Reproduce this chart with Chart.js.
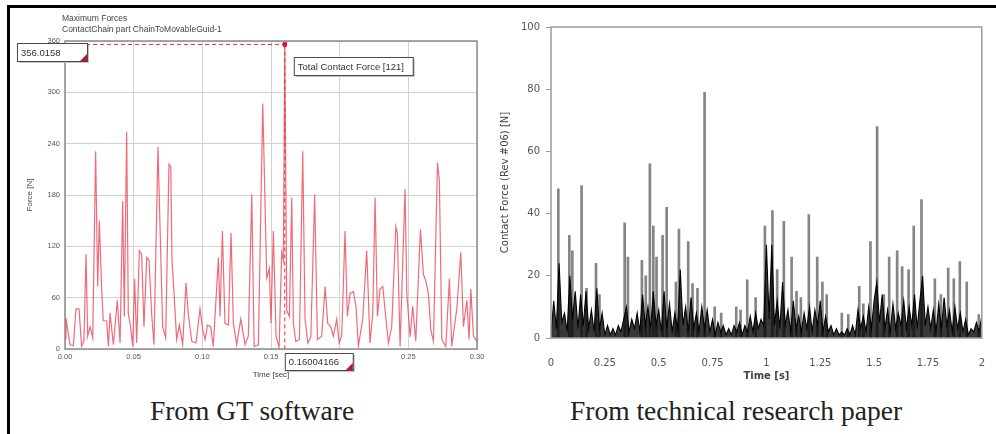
<!DOCTYPE html>
<html>
<head>
<meta charset="utf-8">
<script src="https://cdn.jsdelivr.net/npm/chart.js@4.4.0/dist/chart.umd.min.js"></script>
<style>
  html, body { margin: 0; padding: 0; background: #fff; overflow: hidden; }
  #frame { position: absolute; left: 7px; top: 5px; width: 1000px; height: 440px; border: 3px solid #000; box-sizing: border-box; }
  #gtCanvas { position: absolute; left: 10px; top: 8px; }
  #paperCanvas { position: absolute; left: 490px; top: 8px; }
  .cap { position: absolute; top: 396px; font-family: "Liberation Serif", "Times New Roman", serif; font-size: 27.5px; line-height: 30px; color: #222; transform: translateX(-50%); white-space: nowrap; }
</style>
</head>
<body>
<div id="frame"></div>
<canvas id="gtCanvas" width="480" height="377"></canvas>
<canvas id="paperCanvas" width="506" height="377"></canvas>
<div class="cap" style="left:252px">From GT software</div>
<div class="cap" style="left:736px">From technical research paper</div>

<script>
// --- LEFT: GT software (Time [sec] vs Force [N]) ---
const GT_TITLE = ["Maximum Forces", "ContactChain part ChainToMovableGuid-1"];
const GT_SERIES_LABEL = "Total Contact Force [121]";
const GT_PEAK_TIME = 0.16004166;
const GT_PEAK_FORCE = 356.0158;

const GT_TIME = [
  0.0000, 0.0007, 0.0036, 0.0061, 0.0080, 0.0102, 0.0121, 0.0138, 0.0153, 0.0165,
  0.0182, 0.0202, 0.0223, 0.0238, 0.0250, 0.0267, 0.0279, 0.0303, 0.0316, 0.0328,
  0.0352, 0.0381, 0.0401, 0.0420, 0.0432, 0.0449, 0.0461, 0.0478, 0.0493, 0.0507,
  0.0522, 0.0541, 0.0558, 0.0575, 0.0595, 0.0612, 0.0631, 0.0648, 0.0677, 0.0692,
  0.0711, 0.0733, 0.0757, 0.0770, 0.0779, 0.0794, 0.0813, 0.0833, 0.0857, 0.0881,
  0.0898, 0.0923, 0.0954, 0.0983, 0.1003, 0.1020, 0.1037, 0.1061, 0.1080, 0.1117,
  0.1129, 0.1146, 0.1165, 0.1190, 0.1209, 0.1226, 0.1250, 0.1280, 0.1311, 0.1335,
  0.1360, 0.1377, 0.1408, 0.1440, 0.1469, 0.1488, 0.1500, 0.1517, 0.1537, 0.1559,
  0.1578, 0.1590, 0.16004166, 0.1615, 0.1634, 0.1651, 0.1663, 0.1680, 0.1707, 0.1731,
  0.1748, 0.1768, 0.1790, 0.1818, 0.1838, 0.1869, 0.1894, 0.1913, 0.1935, 0.1954,
  0.1979, 0.1996, 0.2015, 0.2039, 0.2056, 0.2076, 0.2100, 0.2119, 0.2136, 0.2168,
  0.2197, 0.2221, 0.2241, 0.2258, 0.2275, 0.2294, 0.2314, 0.2331, 0.2355, 0.2379,
  0.2409, 0.2420, 0.2440, 0.2476, 0.2489, 0.2513, 0.2532, 0.2554, 0.2588, 0.2610,
  0.2627, 0.2646, 0.2664, 0.2683, 0.2712, 0.2726, 0.2744, 0.2773, 0.2799, 0.2816,
  0.2853, 0.2882, 0.2901, 0.2926, 0.2942, 0.2955, 0.2974, 0.3000,
];
const GT_FORCE = [
  12, 36, 5, 4, 47, 47, 3, 10, 111, 15,
  26, 13, 231, 73, 150, 70, 33, 33, 3, 42,
  5, 57, 7, 173, 38, 254, 41, 26, 3, 82,
  7, 115, 111, 26, 107, 104, 41, 5, 236, 143,
  26, 13, 216, 213, 104, 65, 11, 28, 5, 77,
  41, 9, 7, 47, 22, 11, 28, 26, 3, 107,
  38, 138, 30, 28, 136, 30, 5, 35, 5, 15,
  181, 3, 5, 287, 83, 94, 30, 138, 15, 2,
  113, 104, 356.0158, 45, 38, 177, 30, 9, 11, 231,
  35, 7, 14, 181, 11, 15, 73, 30, 26, 15,
  35, 7, 15, 138, 38, 65, 67, 50, 3, 35,
  115, 7, 41, 177, 38, 70, 73, 45, 7, 26,
  143, 135, 3, 187, 65, 14, 50, 9, 140, 87,
  80, 65, 22, 9, 218, 197, 11, 3, 82, 3,
  47, 113, 26, 57, 11, 70, 15, 9,
];

// --- RIGHT: research paper (Time [s] vs Contact Force) ---
// tall thin (grey) spikes
const PAPER_PEAK_TIME = [
  0.034, 0.085, 0.099, 0.142, 0.165, 0.209, 0.225, 0.342, 0.357, 0.422,
  0.440, 0.459, 0.475, 0.490, 0.518, 0.537, 0.580, 0.594, 0.637, 0.657,
  0.680, 0.713, 0.760, 0.790, 0.860, 0.880, 0.911, 0.950, 0.993, 1.028,
  1.050, 1.081, 1.117, 1.140, 1.160, 1.197, 1.236, 1.260, 1.280, 1.350,
  1.380, 1.431, 1.450, 1.483, 1.514, 1.545, 1.570, 1.607, 1.630, 1.660,
  1.684, 1.720, 1.782, 1.810, 1.844, 1.870, 1.898, 1.930, 1.986,
];
const PAPER_PEAK_FORCE = [
  48, 33, 28, 49, 16, 24, 14, 37, 26, 25,
  20, 56, 36, 26, 33, 42, 18, 35, 31, 17.5,
  16, 79, 10, 8, 10, 9, 18.7, 13, 36, 41,
  22, 37.5, 26, 15, 13, 39.7, 26, 18, 14, 8,
  7.5, 16.6, 11, 31, 68, 14, 26, 28, 23, 22,
  36, 44.5, 19, 14, 22.5, 19, 24.6, 18, 7.5,
];
// dense black floor, sampled every PAPER_NOISE_STEP seconds from t = 0
const PAPER_NOISE_STEP = 0.0125;
const PAPER_NOISE = [
  1, 12, 3, 24, 5, 8, 2, 20, 6, 15,
  3, 14, 4, 15, 3, 9, 2, 16, 3, 8,
  1, 4, 1, 3, 1, 4, 2, 6, 10, 2,
  6, 3, 8, 2, 14, 4, 10, 3, 15, 4,
  9, 2, 15, 3, 11, 2, 8, 3, 22, 4,
  10, 2, 13, 3, 8, 2, 10, 3, 9, 2,
  6, 1, 5, 2, 4, 1, 3, 1, 4, 2,
  5, 1, 4, 2, 7, 2, 8, 3, 6, 4,
  30, 6, 30, 4, 12, 3, 18, 4, 9, 2,
  12, 3, 7, 2, 8, 3, 10, 2, 9, 4,
  12, 2, 7, 2, 4, 1, 3, 1, 2, 1,
  3, 1, 4, 1, 9, 3, 7, 2, 10, 3,
  12, 18, 5, 14, 3, 9, 2, 11, 3, 8,
  4, 12, 3, 10, 4, 14, 3, 12, 20, 4,
  10, 3, 9, 2, 11, 3, 13, 4, 9, 2,
  10, 3, 8, 2, 6, 1, 3, 2, 5, 2,
  7,
];

const SANS = "'Liberation Sans', Arial, sans-serif";
const WIDE = "'DejaVu Sans', Verdana, sans-serif";
Chart.defaults.font.family = SANS;
Chart.defaults.animation = false;
Chart.defaults.plugins.legend.display = false;
Chart.defaults.plugins.tooltip.enabled = false;

// small annotation box like the GT software labels
function noteBox(ctx, x, y, w, h, text, corner) {
  ctx.fillStyle = "#c4c4c4";
  ctx.fillRect(x + 2, y + 2, w, h);
  ctx.fillStyle = "#fff";
  ctx.fillRect(x, y, w, h);
  ctx.strokeStyle = "#4a4a4a";
  ctx.lineWidth = 1;
  ctx.strokeRect(x + 0.5, y + 0.5, w, h);
  if (corner) {
    ctx.fillStyle = "#c8102e";
    ctx.beginPath();
    ctx.moveTo(x + w, y + h - 7);
    ctx.lineTo(x + w, y + h);
    ctx.lineTo(x + w - 7, y + h);
    ctx.closePath();
    ctx.fill();
  }
  ctx.fillStyle = "#333";
  ctx.font = "9.5px " + SANS;
  ctx.textBaseline = "middle";
  ctx.textAlign = "left";
  ctx.fillText(text, x + 4, y + h / 2 + 1);
}

const gtDecor = {
  id: "gtDecor",
  beforeDatasetsDraw(chart) {
    const { ctx, chartArea: a } = chart;
    ctx.save();
    ctx.strokeStyle = "#8c8c8c";
    ctx.lineWidth = 1.5;
    ctx.strokeRect(a.left, a.top, a.right - a.left, a.bottom - a.top);
    ctx.restore();
  },
  afterDraw(chart) {
    const { ctx, chartArea: a, scales } = chart;
    const px = scales.x.getPixelForValue(GT_PEAK_TIME);
    ctx.save();
    ctx.fillStyle = "#444";
    ctx.font = "8.5px " + SANS;
    ctx.textBaseline = "middle";
    ctx.fillText(GT_TITLE[0], a.left - 3, 11);
    ctx.fillText(GT_TITLE[1], a.left - 3, 22);
    noteBox(ctx, a.left - 48, a.top + 2, 70, 18, GT_PEAK_FORCE.toFixed(4), true);
    noteBox(ctx, px + 9, a.top + 16, 119, 18, GT_SERIES_LABEL, false);
    noteBox(ctx, px, a.bottom + 4, 68, 17, String(GT_PEAK_TIME), true);
    ctx.restore();
  },
};

const paperFrame = {
  id: "paperFrame",
  afterDatasetsDraw(chart) {
    const { ctx, chartArea: a } = chart;
    ctx.save();
    ctx.strokeStyle = "#9a9a9a";
    ctx.lineWidth = 1.5;
    ctx.strokeRect(a.left, a.top, a.right - a.left, a.bottom - a.top);
    ctx.restore();
  },
};

// --- LEFT CHART ---
new Chart(document.getElementById("gtCanvas"), {
  type: "line",
  data: {
    datasets: [
      {
        // peak marker
        data: [{ x: GT_PEAK_TIME, y: GT_PEAK_FORCE }],
        pointStyle: "rect",
        pointRadius: 2.5,
        pointBackgroundColor: "#e0102a",
        pointBorderColor: "#e0102a",
        showLine: false,
      },
      {
        data: [{ x: 0, y: GT_PEAK_FORCE }, { x: GT_PEAK_TIME, y: GT_PEAK_FORCE }],
        borderColor: "#e8283c",
        borderWidth: 1,
        borderDash: [4, 3],
        pointRadius: 0,
      },
      {
        data: [{ x: GT_PEAK_TIME, y: GT_PEAK_FORCE }, { x: GT_PEAK_TIME, y: 0 }],
        borderColor: "#e8283c",
        borderWidth: 1,
        borderDash: [4, 3],
        pointRadius: 0,
      },
      {
        label: GT_SERIES_LABEL,
        data: GT_TIME.map((t, i) => ({ x: t, y: GT_FORCE[i] })),
        borderColor: "rgba(236, 70, 88, 0.8)",
        borderWidth: 1.2,
        pointRadius: 0,
        tension: 0,
      },
    ],
  },
  options: {
    responsive: false,
    devicePixelRatio: 1,
    layout: { padding: { left: 0, right: 13, top: 33, bottom: 0 } },
    scales: {
      x: {
        type: "linear",
        min: 0,
        max: 0.3,
        afterFit: (s) => { s.height = 36; },
        ticks: { stepSize: 0.05, padding: 3, color: "#555", font: { size: 7.5 }, maxRotation: 0,
          callback: (v) => v.toFixed(2) },
        grid: { color: "#d2d2d2", drawTicks: false },
        border: { display: false },
        title: { display: true, text: "Time [sec]", color: "#444", font: { size: 8 }, padding: { top: 0, bottom: 5 } },
      },
      y: {
        min: 0,
        max: 360,
        afterFit: (s) => { s.width = 55; },
        ticks: { stepSize: 60, padding: 5, color: "#555", font: { size: 7.5 } },
        grid: { color: "#d2d2d2", drawTicks: false },
        border: { display: false },
        title: { display: true, text: "Force [N]", color: "#444", font: { size: 8 }, padding: { top: 15, bottom: 0 } },
      },
    },
  },
  plugins: [gtDecor],
});

// --- RIGHT CHART ---
new Chart(document.getElementById("paperCanvas"), {
  type: "line",
  data: {
    datasets: [
      {
        label: "floor",
        data: PAPER_NOISE.map((v, i) => ({ x: i * PAPER_NOISE_STEP, y: v })),
        borderColor: "#000",
        backgroundColor: "rgba(0,0,0,0.78)",
        borderWidth: 1.1,
        fill: "origin",
        pointRadius: 0,
        tension: 0,
      },
      {
        type: "bar",
        label: "spikes",
        data: PAPER_PEAK_TIME.map((t, i) => ({ x: t, y: PAPER_PEAK_FORCE[i] })),
        backgroundColor: "#858585",
        barThickness: 2,
      },
    ],
  },
  options: {
    responsive: false,
    devicePixelRatio: 1,
    layout: { padding: { left: 0, right: 14, top: 19, bottom: 0 } },
    scales: {
      x: {
        type: "linear",
        min: 0,
        max: 2,
        offset: false,
        afterFit: (s) => { s.height = 47; },
        ticks: { stepSize: 0.25, padding: 11, color: "#555", font: { family: WIDE, size: 10 }, maxRotation: 0,
          callback: (v) => String(+v.toFixed(2)) },
        grid: { display: false },
        border: { display: false },
        title: { display: true, text: "Time [s]", color: "#444", font: { family: WIDE, size: 10, weight: "bold" }, padding: { top: 0, bottom: 3 } },
      },
      y: {
        min: 0,
        max: 100,
        afterFit: (s) => { s.width = 61; },
        ticks: { stepSize: 20, padding: 6, color: "#555", font: { family: WIDE, size: 10 } },
        grid: { drawOnChartArea: false, drawTicks: true, tickLength: 5, color: "#999" },
        border: { display: false },
        title: { display: true, text: "Contact Force (Rev #06) [N]", color: "#444", font: { family: WIDE, size: 10 }, padding: { top: 9, bottom: 0 } },
      },
    },
  },
  plugins: [paperFrame],
});
</script>
</body>
</html>
